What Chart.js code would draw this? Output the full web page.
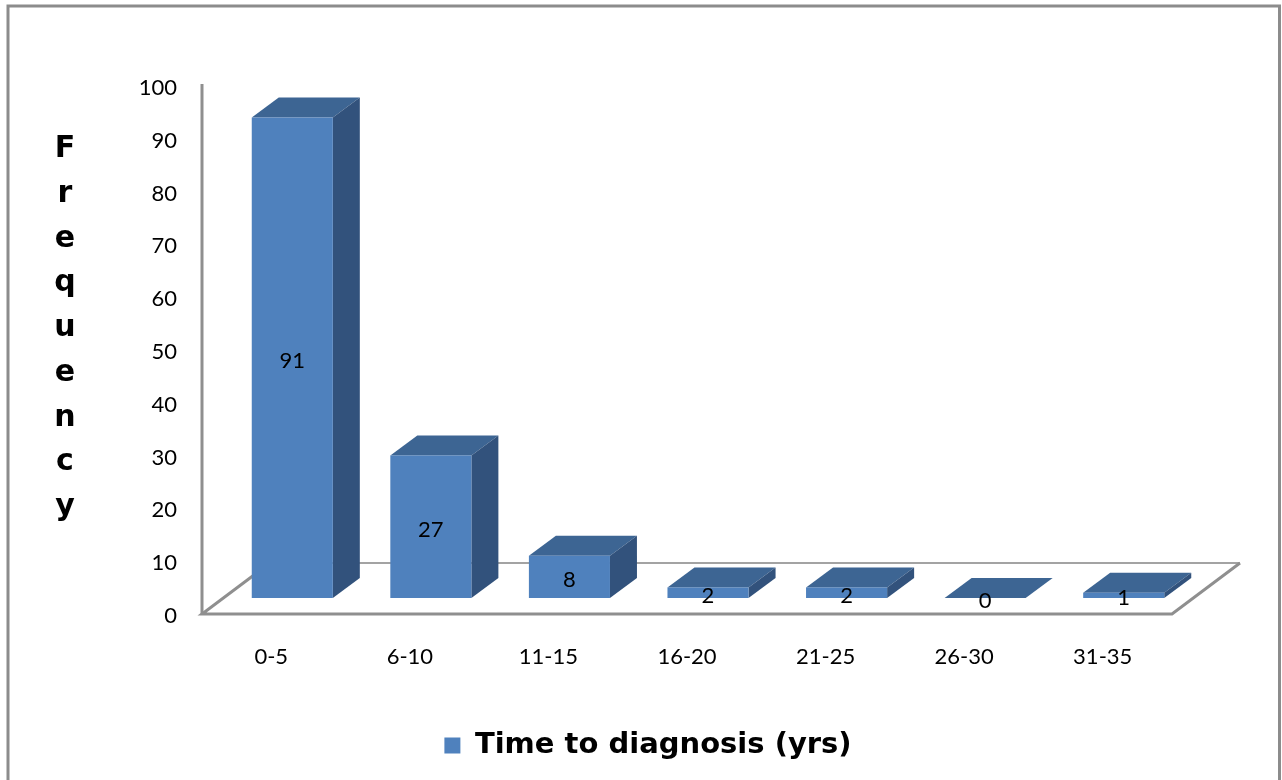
<!DOCTYPE html>
<html>
<head>
<meta charset="utf-8">
<script src="https://cdn.jsdelivr.net/npm/chart.js@4.4.0/dist/chart.umd.min.js"></script>
<style>
  html, body { margin: 0; padding: 0; background: #fff; }
  #wrap { width: 1282px; height: 780px; }
</style>
</head>
<body>
<div id="wrap"><canvas id="myChart" width="1282" height="780"></canvas></div>
<script>
var categories = ['0-5', '6-10', '11-15', '16-20', '21-25', '26-30', '31-35'];
var frequency = [91, 27, 8, 2, 2, 0, 1];
var yTicks = [0, 10, 20, 30, 40, 50, 60, 70, 80, 90, 100];
var axisTitle = 'Frequency';
var seriesName = 'Time to diagnosis (yrs)';

var FRONT = '#4F81BD', TOP = '#3D6593', SIDE = '#32527C';

// fake 3D: floor, boxes and labels drawn from the bar elements
var bar3d = {
  id: 'bar3d',
  beforeDraw: function(chart) {
    var c = chart.ctx;
    c.save();
    c.fillStyle = '#fff';
    c.fillRect(0, 0, chart.width, chart.height);
    c.strokeStyle = '#8c8c8c';
    c.lineWidth = 3;
    c.strokeRect(8, 6, 1271.5, 800);
    c.restore();
  },
  beforeDatasetsDraw: function(chart) {
    var c = chart.ctx, area = chart.chartArea;
    var yb = chart.scales.y.getPixelForValue(0) - 2;
    var dx = 68, dy = 51;
    c.save();
    c.strokeStyle = '#a3a3a3';
    c.lineWidth = 2;
    c.beginPath();
    c.moveTo(area.left + dx, yb - dy);
    c.lineTo(area.right + dx, yb - dy);
    c.stroke();
    c.strokeStyle = '#8f8f8f';
    c.lineWidth = 3;
    c.beginPath();
    c.moveTo(area.left + dx, yb - dy);
    c.lineTo(area.left, yb);
    c.lineTo(area.right, yb);
    c.lineTo(area.right + dx, yb - dy);
    c.stroke();
    c.beginPath();
    c.moveTo(area.left, area.top - 4);
    c.lineTo(area.left, yb);
    c.stroke();
    c.restore();
  },
  beforeDatasetDraw: function() {
    return false;
  },
  afterDatasetsDraw: function(chart) {
    var c = chart.ctx;
    var meta = chart.getDatasetMeta(0);
    var ddx = 27, ddy = 20;
    c.save();
    meta.data.forEach(function(el, i) {
      var p = el.getProps(['x', 'y', 'base', 'width'], true);
      var fw = p.width, fx = p.x - fw / 2 + 21;
      var ft = p.y - 18, fb = p.base - 18;
      c.fillStyle = TOP;
      c.beginPath();
      c.moveTo(fx, ft);
      c.lineTo(fx + ddx, ft - ddy);
      c.lineTo(fx + fw + ddx, ft - ddy);
      c.lineTo(fx + fw, ft);
      c.closePath();
      c.fill();
      if (fb - ft > 0) {
        c.fillStyle = SIDE;
        c.beginPath();
        c.moveTo(fx + fw, ft);
        c.lineTo(fx + fw + ddx, ft - ddy);
        c.lineTo(fx + fw + ddx, fb - ddy);
        c.lineTo(fx + fw, fb);
        c.closePath();
        c.fill();
        c.fillStyle = FRONT;
        c.fillRect(fx, ft, fw, fb - ft);
      }
      c.fillStyle = '#000';
      c.font = '22px Lato';
      c.textAlign = 'center';
      c.textBaseline = 'middle';
      c.fillText(String(frequency[i]), fx + fw / 2, (ft + fb) / 2 + 3);
    });
    c.restore();
  },
  afterDraw: function(chart) {
    var c = chart.ctx;
    c.save();
    c.fillStyle = '#000';
    c.font = 'bold 30px "DejaVu Sans"';
    c.textAlign = 'center';
    c.textBaseline = 'alphabetic';
    axisTitle.split('').forEach(function(ch, i) {
      c.fillText(ch, 65, 157 + 44.75 * i);
    });
    c.restore();
  }
};

var ctx = document.getElementById('myChart').getContext('2d');
var myChart = new Chart(ctx, {
  type: 'bar',
  data: {
    labels: categories,
    datasets: [{
      label: seriesName,
      data: frequency,
      backgroundColor: FRONT,
      borderWidth: 0,
      categoryPercentage: 1,
      barPercentage: 0.585
    }]
  },
  options: {
    responsive: false,
    animation: false,
    layout: { padding: { left: 124, top: 88, right: 110, bottom: 10 } },
    scales: {
      x: {
        afterFit: function(s) { s.height = 105; },
        grid: { display: false, drawTicks: false },
        border: { display: false },
        ticks: { padding: 28, color: '#000', font: { family: 'Lato', size: 22 }, maxRotation: 0, autoSkip: false }
      },
      y: {
        min: 0,
        max: 100,
        afterFit: function(s) { s.width = 78; },
        afterBuildTicks: function(s) { s.ticks = yTicks.map(function(v) { return { value: v }; }); },
        grid: { display: false, drawTicks: false },
        border: { display: false },
        ticks: { padding: 25, color: '#000', font: { family: 'Lato', size: 22 } }
      }
    },
    plugins: {
      tooltip: { enabled: false },
      legend: {
        position: 'bottom',
        labels: {
          boxWidth: 16,
          boxHeight: 16,
          padding: 10,
          color: '#000',
          font: { family: 'DejaVu Sans', size: 29, weight: 'bold' }
        }
      }
    }
  },
  plugins: [bar3d]
});
</script>
</body>
</html>
